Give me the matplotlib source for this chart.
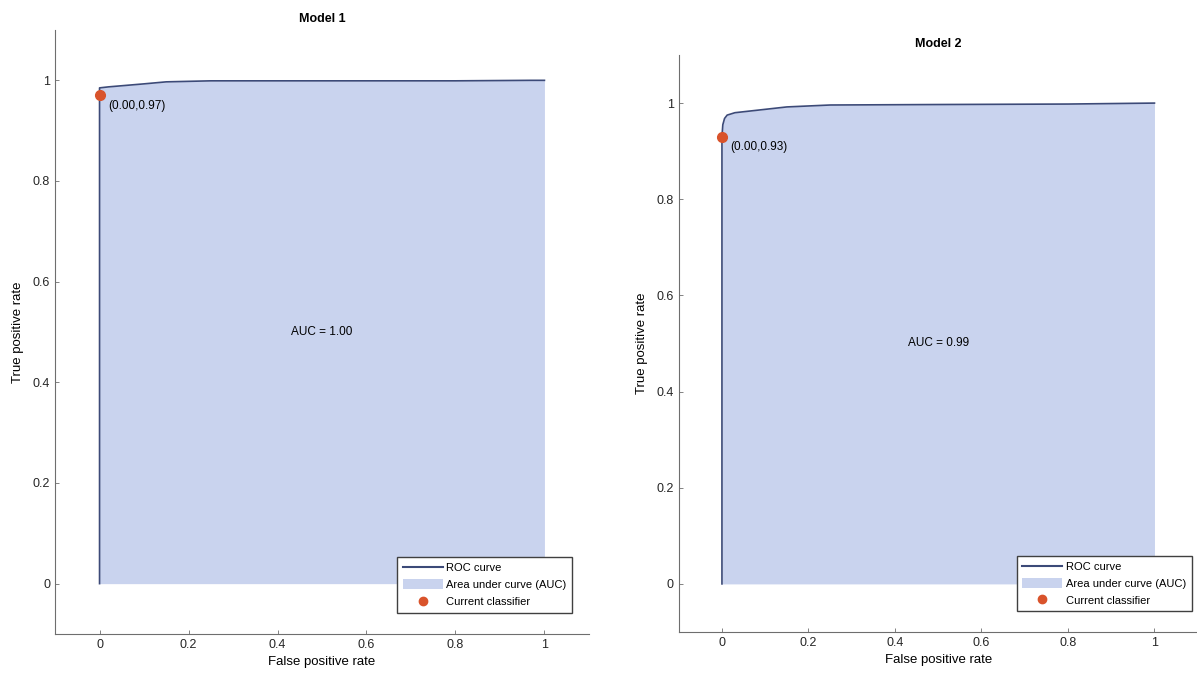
import matplotlib.pyplot as plt
from matplotlib.patches import Patch
from matplotlib.lines import Line2D

plt.rcParams['font.family'] = ['Liberation Sans', 'DejaVu Sans']

# ROC curves
fpr_1 = [0.0, 0.0, 0.02, 0.06, 0.10, 0.15, 0.25, 0.50, 0.80, 0.97, 1.0]
tpr_1 = [0.0, 0.985, 0.987, 0.990, 0.993, 0.997, 0.999, 0.999, 0.999, 1.0, 1.0]
fpr_2 = [0.0, 0.0, 0.002, 0.006, 0.012, 0.03, 0.08, 0.15, 0.25, 0.50, 0.80, 1.0]
tpr_2 = [0.0, 0.93, 0.955, 0.968, 0.975, 0.980, 0.985, 0.992, 0.996, 0.997, 0.998, 1.0]

titles = ['Model 1', 'Model 2']
auc_values = [1.00, 0.99]
current_fpr = [0.00, 0.00]
current_tpr = [0.97, 0.93]

fill_color = '#c9d3ee'
line_color = '#3c4a78'
marker_color = '#d9532b'
axis_color = '#6e6e6e'

fig = plt.figure(figsize=(11.97, 6.85), dpi=100)
ax1 = fig.add_axes([0.046, 0.0745, 0.446, 0.8817])
ax2 = fig.add_axes([0.567, 0.0774, 0.4336, 0.8423])

curves = [(fpr_1, tpr_1), (fpr_2, tpr_2)]
for i, ax in enumerate([ax1, ax2]):
    fpr, tpr = curves[i]
    ax.fill_between(fpr, tpr, 0, color=fill_color, linewidth=0)
    ax.plot(fpr, tpr, color=line_color, linewidth=1.2)
    ax.plot(current_fpr[i], current_tpr[i], 'o', color=marker_color,
            markersize=7, zorder=5)
    ax.annotate(f'({current_fpr[i]:.2f},{current_tpr[i]:.2f})',
                (current_fpr[i], current_tpr[i]), xytext=(6, -3),
                textcoords='offset points', ha='left', va='top', fontsize=8.5)
    ax.text(0.5, 0.5, f'AUC = {auc_values[i]:.2f}', ha='center', va='center',
            fontsize=8.5)

    ax.set_xlim(-0.1, 1.1)
    ax.set_ylim(-0.1, 1.1)
    ax.set_xticks([0, 0.2, 0.4, 0.6, 0.8, 1])
    ax.set_xticklabels(['0', '0.2', '0.4', '0.6', '0.8', '1'])
    ax.set_yticks([0, 0.2, 0.4, 0.6, 0.8, 1])
    ax.set_yticklabels(['0', '0.2', '0.4', '0.6', '0.8', '1'])
    ax.tick_params(direction='in', length=3, width=0.6, colors=axis_color,
                   labelcolor='#262626', labelsize=9)
    for side in ['top', 'right']:
        ax.spines[side].set_visible(False)
    for side in ['left', 'bottom']:
        ax.spines[side].set_color(axis_color)
        ax.spines[side].set_linewidth(0.8)

    ax.set_xlabel('False positive rate', fontsize=9.5, labelpad=4)
    ax.set_ylabel('True positive rate', fontsize=9.5, labelpad=6)
    ax.set_title(titles[i], fontsize=9, fontweight='bold', pad=6)

    handles = [Line2D([0], [0], color=line_color, linewidth=1.5),
               Patch(facecolor=fill_color, edgecolor='none'),
               Line2D([0], [0], marker='o', color=marker_color, linestyle='none',
                      markersize=6)]
    ax.legend(handles, ['ROC curve', 'Area under curve (AUC)', 'Current classifier'],
              loc='lower right', bbox_to_anchor=(0.975 if i == 0 else 0.995, 0.03),
              fontsize=8, frameon=True, fancybox=False, edgecolor='#404040',
              framealpha=1, borderpad=0.5, labelspacing=0.55, handlelength=3.6,
              handleheight=1.0, handletextpad=0.35, borderaxespad=0.3)

fig.savefig('out.png', dpi=100)
